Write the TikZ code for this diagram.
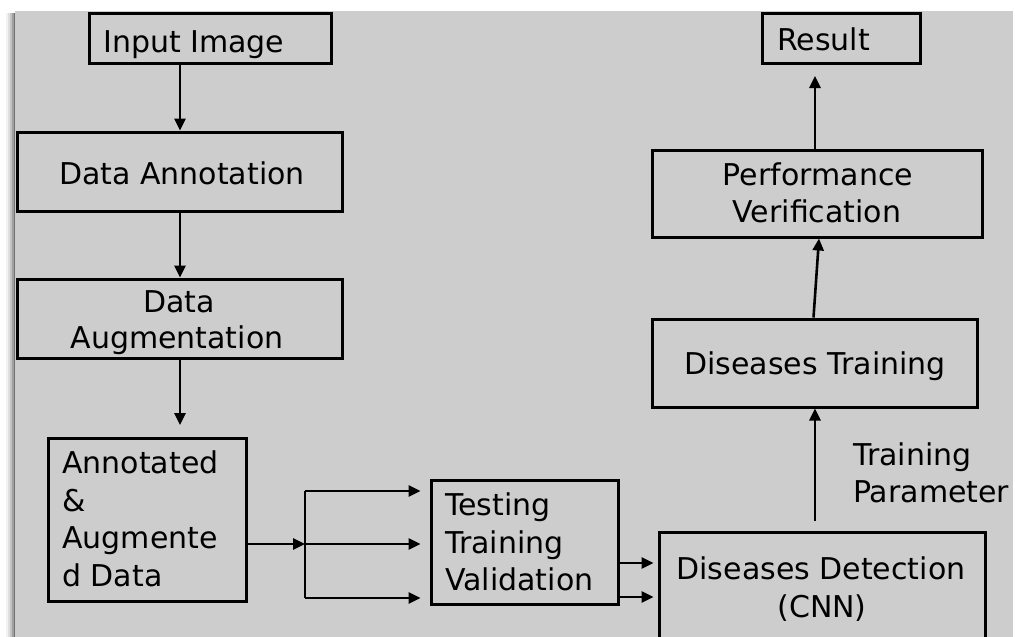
\documentclass[tikz,border=0pt]{standalone}
\usepackage{fontspec}
\setmainfont{DejaVu Sans}
\usetikzlibrary{arrows.meta}
\definecolor{panel}{RGB}{205,205,205}
\tikzset{
  box/.style={draw=black, line width=3pt, inner sep=0pt},
  lbl/.style={anchor=base west, inner sep=0pt, font=\fontsize{30}{37.5}\selectfont},
  clbl/.style={anchor=base, inner sep=0pt, font=\fontsize{30}{37.5}\selectfont},
  flow/.style={line width=2.6pt, -{Triangle[length=12pt,width=11pt]}},
  link/.style={line width=2.6pt},
}
\newcommand{\boxat}[5]{% name, left, top, right, bottom
  \node[box, minimum width={#4-#2}, minimum height={#5-#3}] (#1) at ({(#2+#4)/2},{(#3+#5)/2}) {};}
\begin{document}
\begin{tikzpicture}[x=1pt,y=-1pt]
\useasboundingbox (0,0) rectangle (1015,637);
\fill[white] (0,0) rectangle (1015,637);
% soft shadow on the left edge of the panel
\foreach \d/\o in {10/0.05,8/0.08,6/0.12,4/0.18,2/0.28}
  \fill[black,opacity=\o] (16-\d,13) rectangle (16,637);
\fill[panel] (15,11) rectangle (1013,640);

% boxes
\boxat{inp}{89}{13}{331}{63}
\boxat{ann}{17}{132}{342}{211}
\boxat{aug}{17}{279}{342}{358}
\boxat{aad}{48}{438}{246}{601}
\boxat{ttv}{431}{480}{618}{604}
\boxat{det}{659}{532}{985}{640}
\boxat{dtr}{652}{319}{977}{407}
\boxat{per}{652}{150}{982}{237}
\boxat{res}{762}{13}{920}{63}

% texts
\node[lbl] (tinp) at (103,52) {Input Image};
\node[clbl] (tann) at (182,184) {Data Annotation};
\node[clbl] (taug1) at (179,312) {Data};
\node[clbl] (taug2) at (177,348) {Augmentation};
\node[lbl] (taad1) at (62,473) {Annotated};
\node[lbl] (taad2) at (62,511) {\&};
\node[lbl] (taad3) at (62,548) {Augmente};
\node[lbl] (taad4) at (62,586) {d Data};
\node[lbl] (tttv1) at (445,515) {Testing};
\node[lbl] (tttv2) at (445,553) {Training};
\node[lbl] (tttv3) at (445,590) {Validation};
\node[clbl] (tdet1) at (821,579) {Diseases Detection};
\node[clbl] (tdet2) at (822,617) {(CNN)};
\node[clbl] (tdtr) at (815,374) {Diseases Training};
\node[clbl] (tper1) at (818,185) {Performance};
\node[clbl] (tper2) at (817,222) {Verification};
\node[lbl] (tres) at (777,50) {Result};
\node[lbl] (tpar1) at (853,465) {Training};
\node[lbl] (tpar2) at (853,502) {Parameter};

% connectors
\draw[flow] (inp.south -| 180,0) -- (ann.north -| 180,0);
\draw[flow] (ann.south -| 180,0) -- (aug.north -| 180,0);
\coordinate (augend) at (180,425);
\draw[flow] (aug.south -| 180,0) -- (augend);

\coordinate (split) at (305,544);
\coordinate (splittop) at (305,491);
\coordinate (splitbot) at (305,598);
\draw[flow] (aad.east |- split) -- (split);
\draw[link] (splittop) -- (splitbot);
\draw[flow] (splittop) -- ([xshift=-9pt]ttv.west |- splittop);
\draw[flow] (split) -- ([xshift=-9pt]ttv.west |- split);
\draw[flow] (splitbot) -- ([xshift=-9pt]ttv.west |- splitbot);

\coordinate (o1) at (620,563);
\coordinate (o2) at (620,597);
\draw[flow] (o1) -- ([xshift=-4pt]det.west |- o1);
\draw[flow] (o2) -- ([xshift=-4pt]det.west |- o2);

\coordinate (detout) at (815,521);
\draw[flow] (detout) -- (dtr.south -| detout);
\draw[flow] ([xshift=-1pt]dtr.north) -- ([xshift=2pt]per.south);
\coordinate (resin) at (815,76);
\draw[flow] (per.north -| resin) -- (resin);
\end{tikzpicture}
\end{document}
